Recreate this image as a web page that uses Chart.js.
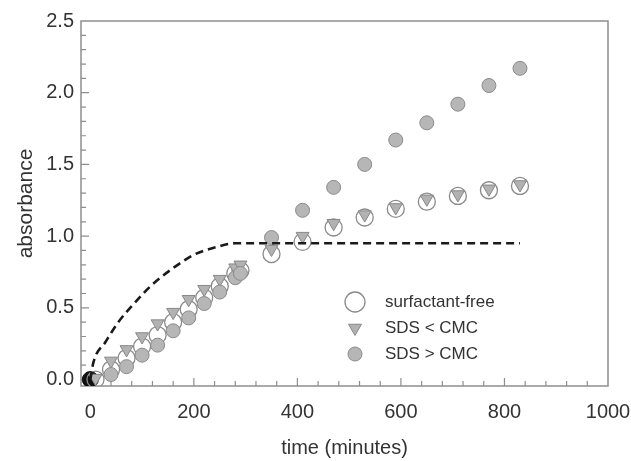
<!DOCTYPE html>
<html><head><meta charset="utf-8">
<script src="https://cdn.jsdelivr.net/npm/chart.js@4.4.0/dist/chart.umd.min.js"></script>
<style>html,body{margin:0;padding:0;background:#fff;}#wrap{width:631px;height:461px;}</style>
</head><body><div id="wrap"><canvas id="c" width="631" height="461"></canvas></div>
<script>
// ---- data ----
const times = [10,40,70,100,130,160,190,220,250,280,290,350,410,470,530,590,650,710,770,830];
const surfactantFree = [0.00,0.07,0.15,0.23,0.31,0.40,0.49,0.57,0.65,0.74,0.76,0.875,0.96,1.06,1.13,1.19,1.24,1.28,1.32,1.35];
const sdsBelowCMC = [0.01,0.13,0.21,0.30,0.39,0.47,0.56,0.63,0.70,0.78,0.80,0.91,1.00,1.09,1.15,1.20,1.26,1.29,1.33,1.36];
const sdsAboveCMC = [null,0.035,0.09,0.17,0.24,0.34,0.43,0.53,0.61,0.71,0.74,0.99,1.18,1.34,1.50,1.67,1.79,1.92,2.05,2.17];
const originTime = [0];
const originValue = [0];
const fitTimes = [0,6,29,54,87,119,161,200,240,280,830];
const fitValues = [0,0.12,0.26,0.40,0.54,0.66,0.78,0.87,0.92,0.95,0.95];
const xTickValues = [0,200,400,600,800,1000];
const yTickValues = [0,0.5,1.0,1.5,2.0,2.5];
const seriesNames = ['surfactant-free','SDS < CMC','SDS > CMC'];
const xTitle = 'time (minutes)';
const yTitle = 'absorbance';

const pts = (xs, ys) => xs.map((x,i)=>({x:x, y:ys[i]})).filter(p=>p.y!==null && p.y!==undefined);

const FRAME = '#8e8e8e';
const TEXT = '#333333';
const FONT = '"Liberation Sans", Arial, sans-serif';

const styles = [
  {pointStyle:'circle', rotation:0, radius:8.5, bg:'rgba(255,255,255,0)', border:'#8a8a8a', bw:1.3},
  {pointStyle:'triangle', rotation:180, radius:7.5, bg:'#b2b2b2', border:'#888888', bw:1},
  {pointStyle:'circle', rotation:0, radius:7, bg:'#b6b6b6', border:'#8a8a8a', bw:1}
];

const frameTicks = {
  id:'frameTicks',
  beforeDatasetsDraw(chart){
    const {ctx, chartArea:a, scales:{x, y}} = chart;
    ctx.save();
    ctx.strokeStyle = FRAME; ctx.lineWidth = 1.5;
    ctx.strokeRect(a.left, a.top, a.right-a.left, a.bottom-a.top);
    ctx.lineWidth = 1.2;
    ctx.beginPath();
    for (let v=-40; v<=1000; v+=40){
      const px = x.getPixelForValue(v);
      if (px < a.left+1 || px > a.right-1) continue;
      const major = xTickValues.includes(v);
      ctx.moveTo(px, a.bottom); ctx.lineTo(px, a.bottom - (major?8:5));
    }
    for (let k=0; k<=25; k++){
      const v = k/10;
      const py = y.getPixelForValue(v);
      if (py < a.top+1 || py > a.bottom-1) continue;
      const major = (k%5===0);
      ctx.moveTo(a.left, py); ctx.lineTo(a.left + (major?8:5), py);
    }
    ctx.stroke();
    ctx.restore();
  },
  afterDraw(chart){
    const ctx = chart.ctx;
    const lx = 355, ly = [302,328,354], tx = 385;
    ctx.save();
    ctx.font = '17px ' + FONT;
    ctx.fillStyle = TEXT; ctx.textBaseline = 'middle'; ctx.textAlign='left';
    styles.forEach((s,i)=>{
      const yy = ly[i];
      ctx.lineWidth = s.bw; ctx.strokeStyle = s.border; ctx.fillStyle = s.bg;
      ctx.beginPath();
      if (s.pointStyle==='circle'){
        const r = i===0 ? 10 : 7;
        ctx.arc(lx, yy, r, 0, Math.PI*2);
      } else {
        const r = 7.5;
        for (let k=0;k<3;k++){
          const ang = Math.PI + k*2*Math.PI/3;
          const px = lx + Math.sin(ang)*r, py = yy - Math.cos(ang)*r;
          k===0 ? ctx.moveTo(px,py) : ctx.lineTo(px,py);
        }
        ctx.closePath();
      }
      ctx.fill(); ctx.stroke();
      ctx.fillStyle = TEXT;
      ctx.fillText(seriesNames[i], tx, yy);
    });
    ctx.restore();
  }
};

const mkScatter = (label, data, s, order) => ({
  label, data, order, showLine:false,
  pointStyle:s.pointStyle, rotation:s.rotation, pointRadius:s.radius,
  pointBackgroundColor:s.bg, pointBorderColor:s.border, pointBorderWidth:s.bw,
  pointHoverRadius:s.radius
});

new Chart(document.getElementById('c'), {
  type:'scatter',
  data:{datasets:[
    {label:'fit', data:pts(fitTimes, fitValues), showLine:true, order:1,
     borderColor:'#1a1a1a', borderWidth:2.6, borderDash:[8,5], pointRadius:0,
     cubicInterpolationMode:'monotone', fill:false},
    mkScatter(seriesNames[2], pts(times, sdsAboveCMC), styles[2], 2),
    mkScatter(seriesNames[1], pts(times, sdsBelowCMC), styles[1], 3),
    mkScatter(seriesNames[0], pts(times, surfactantFree), styles[0], 4),
    {label:'t0', data:pts(originTime, originValue), showLine:false, order:5,
     pointStyle:'circle', pointRadius:8, pointBackgroundColor:'#111', pointBorderColor:'#111', pointBorderWidth:1}
  ]},
  options:{
    responsive:false, devicePixelRatio:1, animation:false, events:[],
    layout:{padding:{left:0,right:23,top:21,bottom:0}},
    plugins:{legend:{display:false}, tooltip:{enabled:false}},
    scales:{
      x:{type:'linear', min:-18, max:1000,
         afterBuildTicks:s=>{s.ticks = xTickValues.map(v=>({value:v}));},
         afterFit:s=>{s.height = 75; s.paddingLeft = 0; s.paddingRight = 0;},
         grid:{display:false, drawTicks:false}, border:{display:false},
         ticks:{color:TEXT, font:{family:FONT, size:20}, padding:14, maxRotation:0, autoSkip:false,
                callback:v=>String(v)},
         title:{display:true, text:xTitle, color:TEXT, font:{family:FONT, size:20}, padding:{top:0,bottom:1}}},
      y:{type:'linear', min:-0.045, max:2.5,
         afterBuildTicks:s=>{s.ticks = yTickValues.map(v=>({value:v}));},
         afterFit:s=>{s.width = 81; s.paddingTop = 0; s.paddingBottom = 0;},
         grid:{display:false, drawTicks:false}, border:{display:false},
         ticks:{color:TEXT, font:{family:FONT, size:20}, padding:7, autoSkip:false,
                callback:v=>Number(v).toFixed(1)},
         title:{display:true, text:yTitle, color:TEXT, font:{family:FONT, size:21}, padding:{top:14,bottom:0}}}
    }
  },
  plugins:[frameTicks]
});
</script></body></html>
